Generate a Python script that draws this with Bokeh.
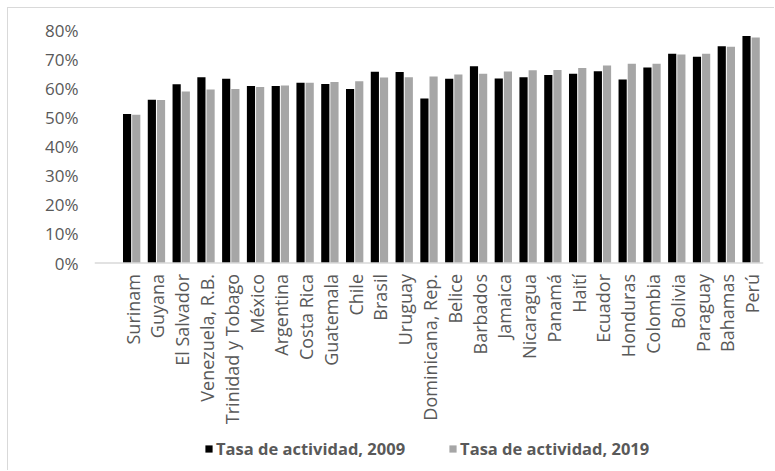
from bokeh.plotting import figure
from bokeh.models import (ColumnDataSource, FixedTicker, NumeralTickFormatter,
                          Range1d, Legend, LegendItem, Span)
from bokeh.core.properties import value
from bokeh.embed import file_html
from bokeh.resources import INLINE
import math

# Labour force participation rate by country, 2009 vs 2019
countries = ["Surinam", "Guyana", "El Salvador", "Venezuela, R.B.", "Trinidad y Tobago",
             "México", "Argentina", "Costa Rica", "Guatemala", "Chile", "Brasil",
             "Uruguay", "Dominicana, Rep.", "Belice", "Barbados", "Jamaica",
             "Nicaragua", "Panamá", "Haití", "Ecuador", "Honduras", "Colombia",
             "Bolivia", "Paraguay", "Bahamas", "Perú"]
tasa_2009 = [0.513, 0.562, 0.615, 0.639, 0.634, 0.609, 0.609, 0.620, 0.616, 0.599,
             0.658, 0.657, 0.566, 0.634, 0.677, 0.635, 0.639, 0.647, 0.651, 0.660,
             0.631, 0.673, 0.720, 0.710, 0.746, 0.781]
tasa_2019 = [0.510, 0.561, 0.590, 0.597, 0.599, 0.606, 0.611, 0.620, 0.623, 0.625,
             0.638, 0.639, 0.642, 0.649, 0.651, 0.659, 0.663, 0.664, 0.671, 0.680,
             0.686, 0.686, 0.717, 0.720, 0.744, 0.776]
y_ticks = [0.0, 0.1, 0.2, 0.3, 0.4, 0.5, 0.6, 0.7, 0.8]
series_names = ["Tasa de actividad, 2009", "Tasa de actividad, 2019"]

FONT = "Open Sans"
TEXT = "#595959"
LINE = "#d9d9d9"

# pixel layout of the value area: 0% sits 232.5 px below 80%,
# and the frame continues below 0% to hold the category names and legend
Y_TOP = 0.8
PX_PER_UNIT = 232.5 / Y_TOP
BELOW_PX = 208.5
y_bottom = -BELOW_PX / PX_PER_UNIT

idx = list(range(len(countries)))
src = ColumnDataSource(dict(
    x=idx,
    x09=[i - 0.185 for i in idx],
    x19=[i + 0.185 for i in idx],
    v09=tasa_2009,
    v19=tasa_2019,
    name=countries,
))

# the host element carries the thin chart-area frame (top and left edges)
p = figure(width=767, height=463, output_backend="svg", toolbar_location=None,
           x_range=Range1d(-1.5, len(countries) - 0.5),
           y_range=Range1d(y_bottom, Y_TOP),
           x_axis_location=None,
           min_border_left=86, min_border_right=12, min_border_top=22,
           min_border_bottom=0,
           styles={"margin-left": "7px", "margin-top": "7px",
                   "border-top": f"1px solid {LINE}",
                   "border-left": f"1px solid {LINE}"})
p.outline_line_color = None
p.xgrid.grid_line_color = None
p.ygrid.grid_line_color = None
p.background_fill_color = "white"
p.border_fill_color = "white"

r09 = p.vbar(x="x09", top="v09", width=0.33, bottom=0, source=src,
             fill_color="#000000", line_color=None)
r19 = p.vbar(x="x19", top="v19", width=0.33, bottom=0, source=src,
             fill_color="#a6a6a6", line_color=None)

# category baseline
p.add_layout(Span(location=0, dimension="width", line_color=LINE, line_width=1.3))

# category names, rotated to read upward, ending just under the baseline
p.text(x="x", y=0, text="name", source=src, angle=math.pi / 2,
       text_align="right", text_baseline="middle", x_offset=1, y_offset=11,
       text_font=value(FONT), text_font_size="18px", text_color=TEXT)

# y axis: percentages, no line or ticks
ya = p.yaxis[0]
ya.ticker = FixedTicker(ticks=y_ticks)
ya.formatter = NumeralTickFormatter(format="0%")
ya.axis_line_color = None
ya.major_tick_line_color = None
ya.minor_tick_line_color = None
ya.major_label_text_font = FONT
ya.major_label_text_font_size = "17px"
ya.major_label_text_color = TEXT
ya.major_label_standoff = 10

legend = Legend(items=[LegendItem(label=series_names[0], renderers=[r09]),
                       LegendItem(label=series_names[1], renderers=[r19])],
                orientation="horizontal", location=(110, 11),
                glyph_width=9, glyph_height=9, label_standoff=3, spacing=43,
                padding=0, margin=0, border_line_color=None,
                background_fill_alpha=0,
                label_text_font=FONT, label_text_font_size="16.5px",
                label_text_font_style="bold", label_text_color=TEXT)
p.add_layout(legend, "center")

open("out.html", "w").write(file_html(p, INLINE))
